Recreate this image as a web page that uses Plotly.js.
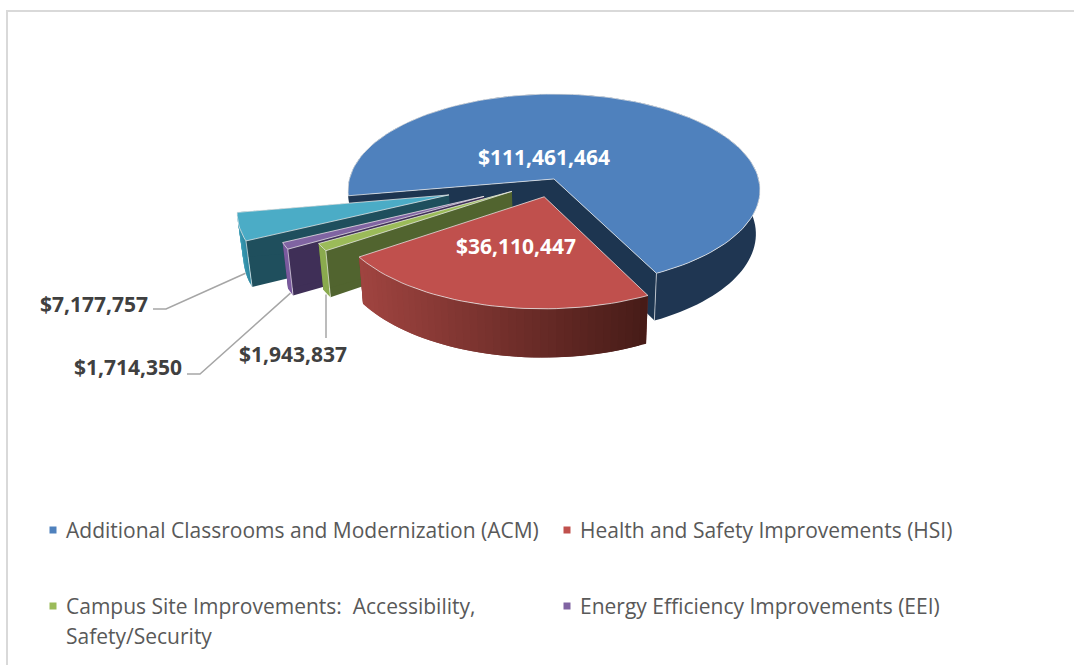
<!DOCTYPE html>
<html>
<head>
<meta charset="utf-8">
<script src="https://cdn.plot.ly/plotly-3.0.1.min.js"></script>
<style>html,body{margin:0;padding:0;background:#fff}#c{width:1074px;height:665px}</style>
</head>
<body>
<div id="c"></div>
<script>
// ---- data ----
var categories = ["Additional Classrooms and Modernization (ACM)", "Health and Safety Improvements (HSI)",
  "Campus Site Improvements:  Accessibility, Safety/Security", "Energy Efficiency Improvements (EEI)", "Other"];
var values = [111461464, 36110447, 1943837, 1714350, 7177757];
var valueLabels = ["$111,461,464", "$36,110,447", "$1,943,837", "$1,714,350", "$7,177,757"];
var explode = [0, 0.19, 0.24, 0.38, 0.53];

// ---- styles ----
var topColors = ["#4f81bd", "#c0504d", "#9bbb59", "#8064a2", "#4bacc6"];
var radialColors = ["#1d3550", "#7a2f2c", "#51642f", "#3f2f57", "#1f4f5d"];
var rimFrom = [[31,54,82], [160,68,64], [138,170,78], [122,90,158], [60,156,181]];
var rimTo = [[31,54,82], [70,27,23], [138,170,78], [122,90,158], [45,135,160]];
var firstAngle = -100;       // degrees clockwise from the top of the pie
var cx = 554, cy = 190, rx = 206, ry = 96, tilt = 0.115, shrink = 0.98;

function project(px, py) {
  var c = Math.sqrt(1 - tilt * tilt), w = 1 + tilt * py;
  return [cx + rx * px * c / w, cy - ry * (py + tilt) / w];
}
function drop(p) { return [cx + (p[0] - cx) * shrink, p[1] + 44 + (p[1] - cy) * 0.04]; }
function rad(d) { return d * Math.PI / 180; }

var traces = [];
function poly(points, fill, lineColor, lineWidth) {
  var xs = points.map(function (p) { return p[0]; }), ys = points.map(function (p) { return p[1]; });
  xs.push(xs[0]); ys.push(ys[0]);
  traces.push({ type: "scatter", mode: lineWidth ? "lines" : "none", x: xs, y: ys, fill: "toself", fillcolor: fill,
    line: { color: lineColor || fill, width: lineWidth || 0 }, hoverinfo: "skip", showlegend: false });
}
function line(points, color, width) {
  traces.push({ type: "scatter", mode: "lines", x: points.map(function (p) { return p[0]; }), y: points.map(function (p) { return p[1]; }),
    line: { color: color, width: width }, hoverinfo: "skip", showlegend: false });
}
function mix(a, b, t) {
  return "rgb(" + [0, 1, 2].map(function (i) { return Math.round(a[i] + (b[i] - a[i]) * t); }).join(",") + ")";
}

var total = values.reduce(function (a, b) { return a + b; }, 0);
var slices = [], angle = firstAngle;
values.forEach(function (v, i) {
  var span = v / total * 360, a0 = angle, a1 = angle + span, mid = (a0 + a1) / 2;
  angle = a1;
  var ox = explode[i] * Math.sin(rad(mid)), oy = explode[i] * Math.cos(rad(mid));
  var apex = project(ox, oy), rim = [], n = Math.max(2, Math.ceil(span / 2));
  for (var k = 0; k <= n; k++) {
    var a = a0 + span * k / n;
    rim.push(project(ox + Math.sin(rad(a)), oy + Math.cos(rad(a))));
  }
  slices.push({ i: i, apex: apex, rim: rim, mid: project(ox + Math.sin(rad(mid)), oy + Math.cos(rad(mid))) });
});

// painter's order, back to front: ACM, other, EEI, campus, HSI
[0, 4, 3, 2, 1].forEach(function (i) {
  var s = slices[i], rim = s.rim, first = rim[0], last = rim[rim.length - 1];
  var minX = Math.min.apply(null, rim.map(function (p) { return p[0]; }));
  var maxX = Math.max.apply(null, rim.map(function (p) { return p[0]; }));
  // radial walls
  poly([s.apex, first, drop(first), drop(s.apex)], radialColors[i]);
  poly([s.apex, last, drop(last), drop(s.apex)], radialColors[i]);
  // rim wall: uniform colour is one band; a gradient is overlapping bands, drawn so no seams show
  var uniform = rimFrom[i].join() === rimTo[i].join();
  if (uniform) {
    poly(rim.concat(rim.slice().reverse().map(drop)), mix(rimFrom[i], rimTo[i], 0));
  } else {
    for (var k = 0; k < rim.length - 1; k++) {
      var e = Math.min(k + 2, rim.length - 1);
      var t = ((rim[k][0] + rim[k + 1][0]) / 2 - minX) / (maxX - minX);
      poly([rim[k], rim[e], drop(rim[e]), drop(rim[k])], mix(rimFrom[i], rimTo[i], t));
    }
  }
  // lit vertical edge at the corner nearest the viewer
  if (i !== 1) {
    var near = first[1] > last[1] ? first : last;
    line([near, drop(near)], "rgba(255,255,255,0.6)", 1);
  }
  // top face
  poly([s.apex].concat(rim), topColors[i], "rgba(235,235,235,0.75)", 1);
});

// leader lines from each small slice's lower rim to its label
var leaderEnds = { 4: [[166, 309], [153, 309]], 3: [[200, 374], [187, 374]], 2: [[326, 338]] };
Object.keys(leaderEnds).forEach(function (key) {
  var s = slices[key], b = drop(s.mid), ends = leaderEnds[key];
  var startX = key == 2 ? ends[0][0] : b[0];   // the campus leader is vertical
  line([[startX, b[1] + 1]].concat(ends), "#a6a6a6", 1.5);
});

// frame
line([[7, 665], [7, 11], [1074, 11]], "#d9d9d9", 2);

// legend markers
var legendRows = [
  { i: 0, x: 53, y: 530, lines: ["Additional Classrooms and Modernization (ACM)"] },
  { i: 1, x: 567, y: 530, lines: ["Health and Safety Improvements (HSI)"] },
  { i: 2, x: 53, y: 606, lines: ["Campus Site Improvements:  Accessibility,", "Safety/Security"] },
  { i: 3, x: 567, y: 606, lines: ["Energy Efficiency Improvements (EEI)"] }
];
traces.push({ type: "scatter", mode: "markers", x: legendRows.map(function (r) { return r.x; }), y: legendRows.map(function (r) { return r.y; }),
  marker: { symbol: "square", size: 7, color: legendRows.map(function (r) { return topColors[r.i]; }) }, hoverinfo: "skip", showlegend: false });

var annotations = [];
function label(text, x, y, color, size, bold, anchor) {
  annotations.push({ text: bold ? "<b>" + text + "</b>" : text, x: x, y: y, xref: "x", yref: "y", showarrow: false,
    xanchor: anchor || "center", yanchor: "middle", font: { family: "'Open Sans', sans-serif", size: size, color: color } });
}
label(valueLabels[0], 544, 157, "#ffffff", 21, true);
label(valueLabels[1], 516, 246, "#ffffff", 21, true);
label(valueLabels[2], 293, 354, "#404040", 21, true);
label(valueLabels[3], 128, 367, "#404040", 21, true);
label(valueLabels[4], 94, 304, "#404040", 21, true);
legendRows.forEach(function (r) {
  r.lines.forEach(function (t, j) { label(t, r.x + 11, r.y + j * 30, "#595959", 21, false, "left"); });
});

Plotly.newPlot("c", traces, {
  width: 1074, height: 665, margin: { l: 0, r: 0, t: 0, b: 0 }, paper_bgcolor: "#fff", plot_bgcolor: "#fff", showlegend: false,
  xaxis: { range: [0, 1074], visible: false, fixedrange: true },
  yaxis: { range: [665, 0], visible: false, fixedrange: true },
  annotations: annotations
}, { displayModeBar: false, staticPlot: true });
</script>
</body>
</html>
